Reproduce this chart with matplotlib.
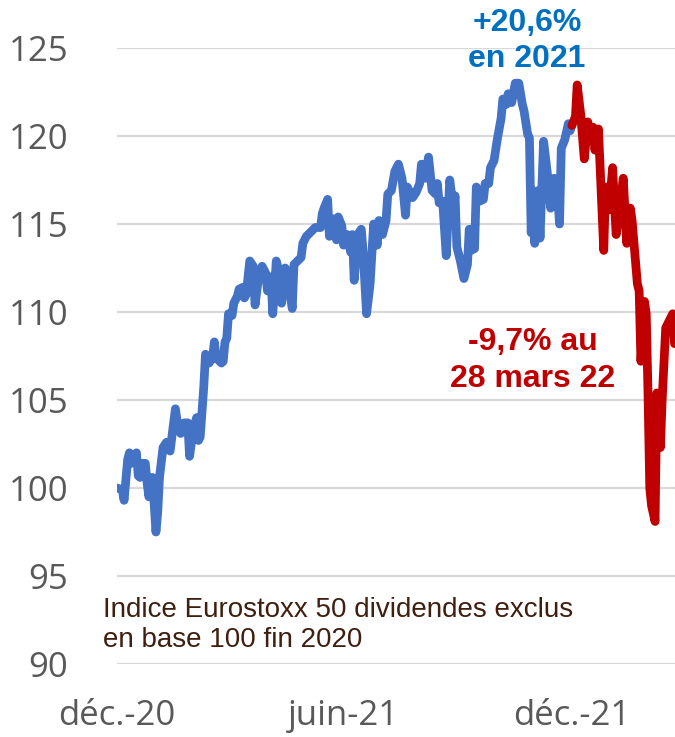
import matplotlib
matplotlib.use("Agg")
import matplotlib.pyplot as plt

# Eurostoxx 50 (hors dividendes), base 100 au 31/12/2020
# index = jour de bourse depuis fin 2020
jours_2021 = [0, 3, 4, 6, 7, 8, 11, 12, 13, 14, 16, 17, 18, 20, 21, 22, 23, 24, 26, 28,
              30, 32, 33, 34, 36, 38, 40, 41, 43, 45, 46, 47, 49, 50, 52, 54, 55, 56, 59, 60,
              61, 62, 63, 65, 66, 68, 69, 71, 72, 73, 75, 77, 78, 80, 82, 84, 85, 87, 88, 90,
              91, 93, 95, 96, 99, 100, 102, 104, 105, 107, 110, 112, 115, 116, 117, 119, 120, 122, 124, 125,
              127, 128, 130, 132, 133, 134, 136, 138, 139, 141, 143, 145, 147, 148, 150, 152, 153, 155, 157, 159,
              161, 163, 164, 167, 169, 171, 172, 174, 176, 178, 180, 181, 182, 184, 186, 188, 190, 191, 192, 194,
              196, 198, 199, 200, 202, 203, 205, 207, 208, 210, 211, 213, 215, 217, 218, 220, 221, 223, 225, 227,
              229, 230, 232, 233, 234, 235, 236, 238, 239, 241, 243, 245, 247, 249, 250, 251, 253, 255, 256, 257]
indice_2021 = [100.0, 99.9, 99.3, 101.6, 102.0, 101.4, 102.0, 100.7, 100.6, 101.4, 101.4, 100.3, 99.5, 100.6, 99.1, 97.5, 98.6, 100.6, 102.3, 102.6,
               102.1, 103.7, 104.5, 103.8, 103.1, 103.7, 103.7, 101.8, 103.3, 104.0, 102.7, 102.9, 105.7, 107.6, 107.1, 107.4, 108.3, 107.4, 107.1, 107.2,
               108.3, 108.5, 109.9, 109.8, 110.5, 110.9, 111.3, 111.4, 110.8, 111.0, 112.9, 112.6, 110.4, 112.0, 112.6, 112.2, 111.2, 112.0, 109.9, 112.9,
               112.5, 110.5, 112.5, 112.3, 110.2, 112.7, 112.9, 113.1, 113.9, 114.3, 114.6, 114.8, 114.8, 115.6, 115.9, 116.4, 114.3, 115.3, 114.1, 115.4,
               114.9, 113.8, 114.4, 113.4, 114.4, 111.8, 114.4, 114.7, 113.5, 109.9, 111.6, 115.0, 113.8, 115.2, 114.4, 115.2, 116.7, 116.9, 118.0, 118.4,
               117.6, 115.5, 117.1, 116.5, 116.8, 117.3, 118.4, 117.6, 118.8, 116.9, 116.7, 117.3, 116.2, 116.3, 113.2, 117.5, 115.9, 116.6, 113.7, 112.9,
               111.9, 112.7, 114.7, 113.5, 113.6, 117.1, 116.3, 116.4, 117.3, 117.3, 118.2, 118.6, 119.9, 121.0, 122.1, 121.8, 122.4, 121.9, 123.0, 123.0,
               121.8, 121.4, 120.1, 119.9, 114.5, 116.9, 113.9, 116.9, 114.2, 119.7, 118.0, 115.9, 117.6, 116.7, 115.0, 119.3, 119.8, 120.7, 120.3, 120.6]

jours_2022 = [257, 259, 260, 262, 264, 266, 267, 269, 270, 272, 275, 276, 278, 280, 282, 284, 286, 288, 290, 291,
              294, 295, 296, 298, 299, 300, 301, 302, 304, 305, 307, 308, 310, 311, 314, 315, 317]
indice_2022 = [120.6, 121.1, 122.9, 121.2, 118.7, 120.8, 119.9, 120.5, 119.2, 120.4, 113.5, 117.1, 115.8, 118.2, 114.4, 115.8, 117.6, 113.9, 115.9, 115.2,
               111.6, 111.2, 107.2, 110.6, 109.9, 105.4, 100.0, 99.0, 98.1, 105.4, 102.3, 105.0, 109.1, 109.3, 109.9, 108.2, 108.9]

graduations_y = [90, 95, 100, 105, 110, 115, 120, 125]
positions_x = [0, 128, 257]
libelles_x = ["déc.-20", "juin-21", "déc.-21"]

bleu = "#4472C4"
rouge = "#C00000"
gris = "#595959"

fig = plt.figure(figsize=(6.75, 7.37), dpi=100)
ax = fig.add_axes([117 / 675, 73 / 737, 558 / 675, 616 / 737])

ax.plot(jours_2021, indice_2021, color=bleu, lw=6.3, solid_joinstyle="round", solid_capstyle="round")
ax.plot(jours_2022, indice_2022, color=rouge, lw=6.3, solid_joinstyle="round", solid_capstyle="round")

ax.set_xlim(0, 558 / 1.77)
ax.set_ylim(90, 125)
ax.set_yticks(graduations_y)
ax.set_xticks(positions_x)
ax.set_xticklabels(libelles_x)
ax.yaxis.grid(True, color="#D9D9D9", lw=1.6)
ax.set_axisbelow(True)
for s in ax.spines.values():
    s.set_visible(False)
ax.tick_params(axis="y", length=0, pad=35, labelsize=25, labelcolor=gris)
ax.tick_params(axis="x", length=0, pad=25, labelsize=25, labelcolor=gris)
for lab in ax.get_xticklabels() + ax.get_yticklabels():
    lab.set_family(["Open Sans", "DejaVu Sans"])

# annotations
fig.text(527 / 675, 1 - 8 / 737, "+20,6%\nen 2021", ha="center", va="top", color="#0070C0",
         fontsize=23, fontweight="bold", family="Liberation Sans", linespacing=1.25)
fig.text(533 / 675, 1 - 327 / 737, "-9,7% au\n28 mars 22", ha="center", va="top", color=rouge,
         fontsize=23, fontweight="bold", family="Liberation Sans", linespacing=1.3)
fig.text(103 / 675, 1 - 597 / 737, "Indice Eurostoxx 50 dividendes exclus\nen base 100 fin 2020",
         ha="left", va="top", color="#3F1F0F", fontsize=20, family="Liberation Sans", linespacing=1.2)

fig.savefig("out.png", dpi=100)
